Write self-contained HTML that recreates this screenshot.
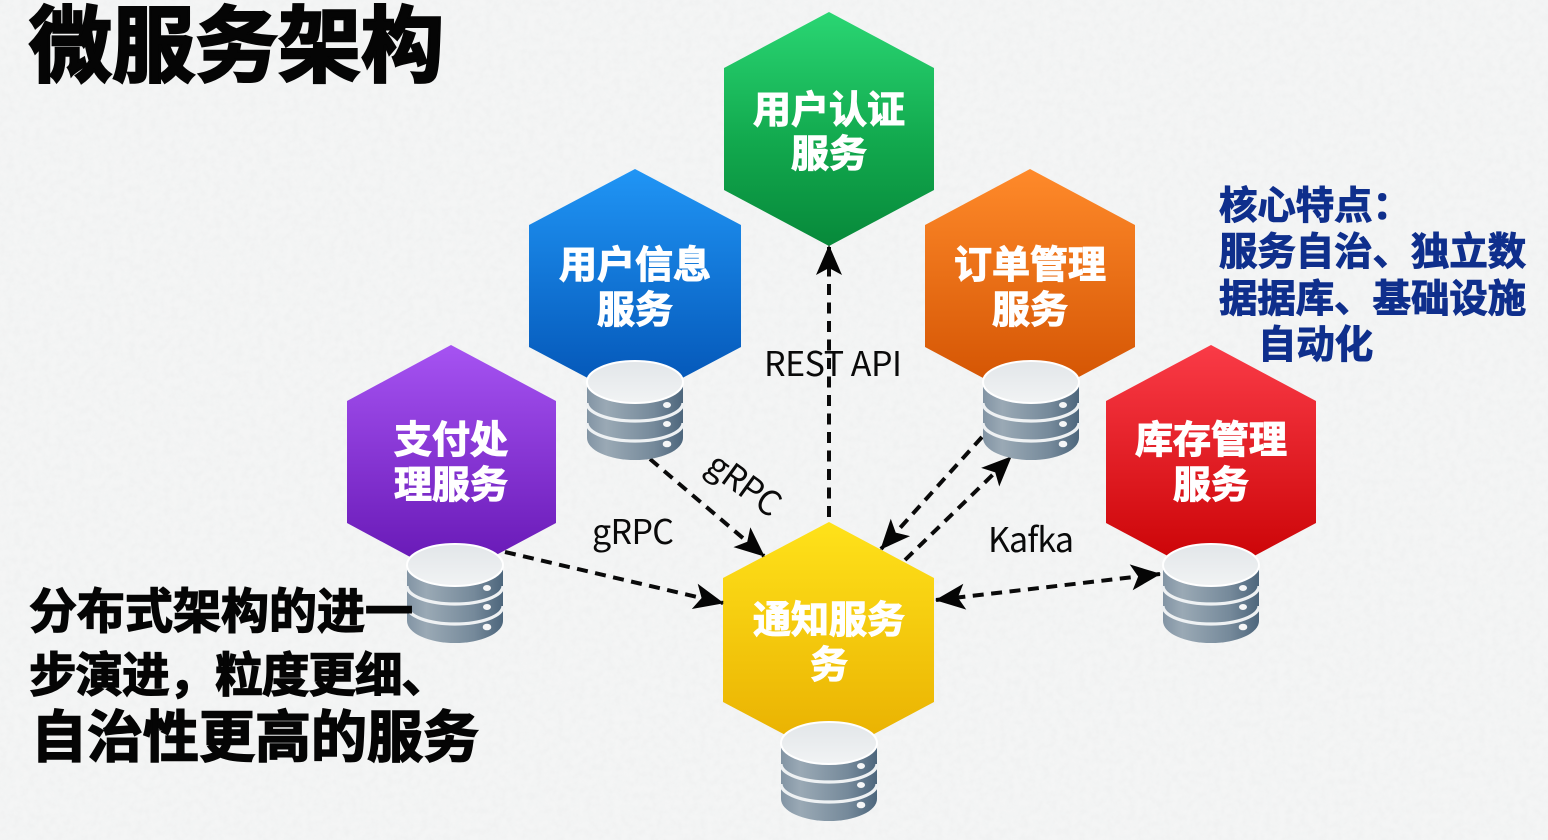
<!DOCTYPE html>
<html lang="zh-CN"><head><meta charset="utf-8"><title>微服务架构</title>
<style>
html,body{margin:0;padding:0;width:1548px;height:840px;overflow:hidden;background:#f4f5f5}
svg{display:block;position:absolute;left:0;top:0}
text{font-family:"Liberation Sans","Noto Sans CJK SC",sans-serif}
.t{font-weight:700;fill:#fff;font-size:38px;text-anchor:middle;stroke:#fff;stroke-width:1.1px}
.k{font-weight:700;fill:#050505;stroke:#050505}
.b{font-weight:700;fill:#0f2f8c;font-size:38.4px;stroke:#0f2f8c;stroke-width:1px}
.l{font-family:"Noto Sans CJK SC","Liberation Sans",sans-serif;font-size:34px;fill:#0a0a0a}
.d{stroke:#0a0a0a;stroke-width:4;stroke-dasharray:11 7.5;fill:none}
</style></head><body>
<svg width="1548" height="840" viewBox="0 0 1548 840" xmlns="http://www.w3.org/2000/svg">
<defs>
<linearGradient id="gg" x1="0" y1="0" x2="0" y2="1"><stop offset="0" stop-color="#2ad673"/><stop offset=".55" stop-color="#12a94e"/><stop offset="1" stop-color="#07893a"/></linearGradient>
<linearGradient id="gb" x1="0" y1="0" x2="0" y2="1"><stop offset="0" stop-color="#2095f5"/><stop offset="1" stop-color="#0252b3"/></linearGradient>
<linearGradient id="go" x1="0" y1="0" x2="0" y2="1"><stop offset="0" stop-color="#ff8a2a"/><stop offset="1" stop-color="#d05000"/></linearGradient>
<linearGradient id="gp" x1="0" y1="0" x2="0" y2="1"><stop offset="0" stop-color="#a653f2"/><stop offset="1" stop-color="#6415b2"/></linearGradient>
<linearGradient id="gr" x1="0" y1="0" x2="0" y2="1"><stop offset="0" stop-color="#fa3b47"/><stop offset="1" stop-color="#c80002"/></linearGradient>
<linearGradient id="gy" x1="0" y1="0" x2="0" y2="1"><stop offset="0" stop-color="#ffe21a"/><stop offset="1" stop-color="#e8ae00"/></linearGradient>
<linearGradient id="cy" x1="0" y1="0" x2="1" y2="0"><stop offset="0" stop-color="#8294a4"/><stop offset=".2" stop-color="#9aa9b5"/><stop offset=".7" stop-color="#75899a"/><stop offset="1" stop-color="#4d667c"/></linearGradient>
<linearGradient id="ct" x1="0" y1="0" x2="0" y2="1"><stop offset="0" stop-color="#e2e6e9"/><stop offset="1" stop-color="#f1f3f4"/></linearGradient>
<filter id="paper" x="0" y="0" width="100%" height="100%"><feTurbulence type="fractalNoise" baseFrequency=".14" numOctaves="3" seed="4"/><feColorMatrix values="0 0 0 0 .55  0 0 0 0 .57  0 0 0 0 .58  .5 0 0 0 -.16"/></filter>
<marker id="a" viewBox="0 0 30 28" refX="29" refY="14" markerWidth="30" markerHeight="28" markerUnits="userSpaceOnUse" orient="auto-start-reverse"><path d="M0 1 L30 14 L0 27 L7 14Z" fill="#050505"/></marker>
<g id="db">
<path d="M-48 22 V77 A48 22 0 0 0 48 77 V22Z" fill="url(#cy)"/>
<path d="M-48 42 A48 18 0 0 0 48 42" fill="none" stroke="#eef1f3" stroke-width="3.2"/>
<path d="M-48 62 A48 18 0 0 0 48 62" fill="none" stroke="#eef1f3" stroke-width="3.2"/>
<ellipse cx="0" cy="21" rx="48" ry="21" fill="url(#ct)" stroke="#fff" stroke-width="2"/>
<ellipse cx="32" cy="44" rx="4" ry="3" fill="#f5f6f7"/><ellipse cx="32" cy="63" rx="4" ry="3" fill="#f5f6f7"/><ellipse cx="32" cy="83" rx="4.3" ry="3.3" fill="#f5f6f7"/>
</g>
</defs>
<rect width="1548" height="840" fill="#f4f5f5"/>
<rect width="1548" height="840" filter="url(#paper)" opacity=".3"/>

<polygon points="829,12 934,68 934,190 829,246 724,190 724,68" fill="url(#gg)"/>
<polygon points="635,169 741,225 741,347 635,403 529,347 529,225" fill="url(#gb)"/>
<polygon points="1030,169 1135,225 1135,347 1030,403 925,347 925,225" fill="url(#go)"/>
<polygon points="451,345 556,401 556,523 451,579 347,523 347,401" fill="url(#gp)"/>
<polygon points="1211,345 1316,401 1316,523 1211,579 1106,523 1106,401" fill="url(#gr)"/>
<polygon points="829,522 934,578 934,702 829,758 723,702 723,578" fill="url(#gy)"/>

<line class="d" x1="829" y1="517" x2="829" y2="246" marker-end="url(#a)"/>
<line class="d" x1="650" y1="459" x2="764" y2="556" marker-end="url(#a)"/>
<line class="d" x1="505" y1="552" x2="723" y2="603" marker-end="url(#a)"/>
<line class="d" x1="982" y1="437" x2="881" y2="549" marker-end="url(#a)"/>
<line class="d" x1="905" y1="560" x2="1011" y2="457" marker-end="url(#a)"/>
<line class="d" x1="936" y1="600" x2="1160" y2="574" marker-start="url(#a)" marker-end="url(#a)"/>

<use href="#db" x="635" y="361"/>
<use href="#db" x="1031" y="361"/>
<use href="#db" x="455" y="544"/>
<use href="#db" x="1211" y="544"/>
<use href="#db" x="829" y="722"/>

<text class="t" x="829" y="123">用户认证</text><text class="t" x="829" y="167">服务</text>
<text class="t" x="635" y="278">用户信息</text><text class="t" x="635" y="323">服务</text>
<text class="t" x="1030" y="278">订单管理</text><text class="t" x="1030" y="323">服务</text>
<text class="t" x="451" y="453">支付处</text><text class="t" x="451" y="498">理服务</text>
<text class="t" x="1211" y="453">库存管理</text><text class="t" x="1211" y="498">服务</text>
<text class="t" x="829" y="633">通知服务</text><text class="t" x="829" y="678">务</text>

<text class="l" x="764" y="376" textLength="138">REST API</text>
<text class="l" x="592" y="544" textLength="82">gRPC</text>
<text class="l" x="0" y="0" textLength="82" transform="translate(704,470) rotate(36)">gRPC</text>
<text class="l" x="988" y="552" textLength="86">Kafka</text>

<text class="k" x="29" y="75" font-size="83" stroke-width="2.5">微服务架构</text>
<text class="k" x="29" y="628" font-size="48" stroke-width="1.4">分布式架构的进一</text>
<text class="k" x="29" y="692" font-size="47.5" stroke-width="1.4" textLength="420">步演进，粒度更细、</text>
<text class="k" x="31" y="757" font-size="56" stroke-width="1.6">自治性更高的服务</text>

<text class="b" x="1219" y="219">核心特点：</text>
<text class="b" x="1219" y="265">服务自治、独立数</text>
<text class="b" x="1219" y="312">据据库、基础设施</text>
<text class="b" x="1258" y="358">自动化</text>
</svg>
</body></html>
